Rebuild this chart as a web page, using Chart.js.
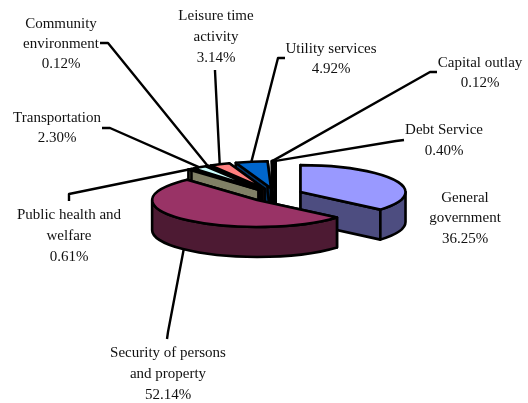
<!DOCTYPE html>
<html>
<head>
<meta charset="utf-8">
<script src="https://cdn.jsdelivr.net/npm/chart.js@4"></script>
<style>
html, body { margin: 0; padding: 0; background: #fff; }
canvas { display: block; }
</style>
</head>
<body>
<canvas id="myChart" width="528" height="403"></canvas>
<script>
var categories = [
    ['General', 'government'],
    ['Security of persons', 'and property'],
    ['Public health and', 'welfare'],
    ['Transportation'],
    ['Community', 'environment'],
    ['Leisure time', 'activity'],
    ['Utility services'],
    ['Capital outlay'],
    ['Debt Service']
];
var shares = [36.25, 52.14, 0.61, 2.30, 0.12, 3.14, 4.92, 0.12, 0.40];
var topColors = ['#9999FF', '#993366', '#808066', '#CCFFFF', '#660066', '#FF8080', '#0066CC', '#CCCCFF', '#000080'];
var sideColors = ['#4D4D80', '#4D1A33', '#808066', '#668080', '#330033', '#804040', '#003366', '#666680', '#000040'];

// where each label sits: centre x, first line y, and the leader's elbow
var labelSpots = [
    { x: 465, y: 198, gap: 20.5 },
    { x: 168, y: 353, gap: 21, from: [167, 339], elbow: [168, 332] },
    { x: 69, y: 215, gap: 21, from: [69, 201], elbow: [69, 194] },
    { x: 57, y: 118, gap: 20, from: [102, 128], elbow: [110, 128] },
    { x: 61, y: 24, gap: 20, from: [100, 43], elbow: [108, 43] },
    { x: 216, y: 16, gap: 21, from: [215, 70], elbow: [215, 71] },
    { x: 331, y: 49, gap: 20, from: [285, 58], elbow: [278, 58] },
    { x: 480, y: 63, gap: 20, from: [437, 72], elbow: [430, 72] },
    { x: 444, y: 130, gap: 21, from: [404, 140], elbow: [396, 141] }
];

var squash = 0.257;
var depth = 30;

function sliceGeometry(arc) {
    var p = arc.getProps(['x', 'y', 'startAngle', 'endAngle', 'outerRadius'], true);
    var mid = (p.startAngle + p.endAngle) / 2;
    var off = arc.options.offset;
    return {
        cx: p.x + Math.cos(mid) * off,
        cy: p.y + Math.sin(mid) * off * squash,
        r: p.outerRadius,
        start: p.startAngle,
        end: p.endAngle,
        mid: mid
    };
}

function edgeWall(ctx, g, angle) {
    var ex = g.cx + Math.cos(angle) * g.r;
    var ey = g.cy + Math.sin(angle) * g.r * squash;
    ctx.beginPath();
    ctx.moveTo(g.cx, g.cy);
    ctx.lineTo(ex, ey);
    ctx.lineTo(ex, ey + depth);
    ctx.lineTo(g.cx, g.cy + depth);
    ctx.closePath();
    ctx.fill();
    ctx.stroke();
}

var pie3d = {
    id: 'pie3d',
    beforeDatasetDraw: function (chart) {
        var ctx = chart.ctx;
        var arcs = chart.getDatasetMeta(0).data;
        var order = arcs.map(function (a, i) { return i; });
        // back slices first
        order.sort(function (a, b) {
            return Math.sin(sliceGeometry(arcs[a]).mid) - Math.sin(sliceGeometry(arcs[b]).mid);
        });
        ctx.save();
        ctx.lineWidth = 2.6;
        ctx.lineJoin = 'round';
        ctx.strokeStyle = '#000';
        order.forEach(function (i) {
            var g = sliceGeometry(arcs[i]);
            ctx.fillStyle = sideColors[i];
            edgeWall(ctx, g, g.start);
            edgeWall(ctx, g, g.end);
            var a0 = Math.max(g.start, 0);
            var a1 = Math.min(g.end, Math.PI);
            if (a1 > a0) {
                ctx.beginPath();
                ctx.ellipse(g.cx, g.cy, g.r, g.r * squash, 0, a0, a1);
                ctx.ellipse(g.cx, g.cy + depth, g.r, g.r * squash, 0, a1, a0, true);
                ctx.closePath();
                ctx.fill();
                ctx.stroke();
            }
            ctx.fillStyle = topColors[i];
            ctx.beginPath();
            ctx.moveTo(g.cx, g.cy);
            ctx.ellipse(g.cx, g.cy, g.r, g.r * squash, 0, g.start, g.end);
            ctx.closePath();
            ctx.fill();
            ctx.stroke();
        });
        ctx.restore();
        return false;
    },
    afterDatasetsDraw: function (chart) {
        var ctx = chart.ctx;
        var arcs = chart.getDatasetMeta(0).data;
        ctx.save();
        ctx.lineWidth = 2.4;
        ctx.strokeStyle = '#000';
        ctx.lineJoin = 'round';
        ctx.fillStyle = '#111';
        ctx.font = '15px "Liberation Serif"';
        ctx.textAlign = 'center';
        ctx.textBaseline = 'middle';
        categories.forEach(function (lines, i) {
            var spot = labelSpots[i];
            if (spot.from) {
                var g = sliceGeometry(arcs[i]);
                var ax = g.cx + Math.cos(g.mid) * g.r;
                var ay = g.cy + Math.sin(g.mid) * g.r * squash + (Math.sin(g.mid) > 0 ? depth : 0);
                ctx.beginPath();
                ctx.moveTo(spot.from[0], spot.from[1]);
                ctx.lineTo(spot.elbow[0], spot.elbow[1]);
                ctx.lineTo(ax, ay);
                ctx.stroke();
            }
            lines.concat(shares[i].toFixed(2) + '%').forEach(function (text, n) {
                ctx.fillText(text, spot.x, spot.y + n * spot.gap);
            });
        });
        ctx.restore();
    }
};

var ctx = document.getElementById('myChart').getContext('2d');
var myChart = new Chart(ctx, {
    type: 'pie',
    data: {
        labels: categories.map(function (c) { return c.join(' '); }),
        datasets: [{
            data: shares,
            backgroundColor: topColors,
            borderWidth: 0,
            offset: 27,
            radius: 105
        }]
    },
    options: {
        responsive: false,
        animation: false,
        events: [],
        layout: { padding: { left: 24, bottom: 13 } },
        plugins: { legend: { display: false }, tooltip: { enabled: false } }
    },
    plugins: [pie3d]
});
</script>
</body>
</html>
